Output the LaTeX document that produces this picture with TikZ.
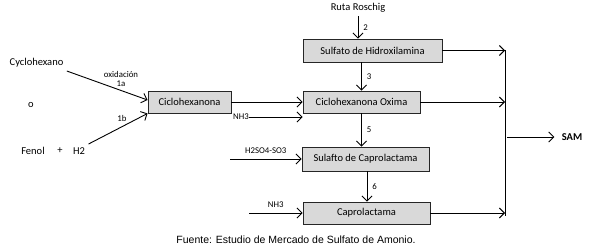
\documentclass[tikz,border=0pt]{standalone}
\usepackage{fontspec}
\setmainfont{Carlito}
\newfontfamily\captionfont{Liberation Sans}
\usetikzlibrary{arrows.meta}
\begin{document}
\begin{tikzpicture}[
  x=1pt, y=-1pt,
  font=\fontsize{10.5}{12}\selectfont,
  box/.style={draw=black!85, line width=0.9pt, fill=gray!30, minimum height=22pt, inner sep=0pt},
  tag/.style={font=\fontsize{8.8}{9.5}\selectfont, inner sep=1pt},
  flow/.style={line width=0.9pt, -{Straight Barb[length=5pt,width=10pt]}},
  rail/.style={line width=0.9pt},
]
\def\xbus{505}

\path[use as bounding box] (0,0) rectangle (589,251);

\node[box, minimum width=83pt] (cic) at (189.5,102) {Ciclohexanona};
\node[box, minimum width=139pt, minimum height=23pt] (hid) at (372.5,50.5) {Sulfato de Hidroxilamina};
\node[box, minimum width=117pt] (oxi) at (361.5,102) {Ciclohexanona Oxima};
\node[box, minimum width=127pt, minimum height=24pt] (sul) at (365.5,159) {Sulafto de Caprolactama};
\node[box, minimum width=127pt] (cap) at (366.5,213) {Caprolactama};

\node (cyc) at (36.5,63) {Cyclohexano};
\node (or) at (31,105) {o};
\node (fen) at (33,151) {Fenol};
\node (plus) at (60,151) {+};
\node (h2) at (79,151) {H2};
\node (ruta) at (358,8) {Ruta Roschig};
\node[font=\fontsize{10.5}{12}\selectfont\bfseries] (sam) at (572,137) {SAM};
\node[tag, align=center] (oxd) at (121,79) {oxidación\\1a};
\node[tag] (t1b) at (122,118) {1b};
\node[tag, inner sep=0pt] (nh3a) at (241,117) {NH3};

\coordinate (inS) at (230,159);
\coordinate (inC) at (249,213);
\coordinate (btop) at (\xbus,50);
\coordinate (bbot) at (\xbus,216);
\coordinate (bout) at (507,137);

\draw[flow] (cyc.south east) -- ([yshift=2pt]cic.west);
\draw[flow] (h2.north east) -- (cic.south west);
\draw[flow] (cic.east) -- (oxi.west);
\draw[flow] (nh3a.east) -- (nh3a.east -| oxi.west);
\draw[flow] (inS) -- (sul.west) node[tag, midway, above=4pt] {H2SO4-SO3};
\draw[flow] (inC) -- (cap.west) node[tag, midway, above=4pt] {NH3};

\draw[flow] (ruta.south -| 358,0) -- (hid.north -| 358,0) node[tag, midway, right=4pt] {2};
\draw[flow] ([xshift=-11pt]hid.south) -- ([xshift=-11pt]hid.south |- oxi.north) node[tag, midway, right=4pt] {3};
\draw[flow] (oxi.south) -- (oxi.south |- sul.north) node[tag, midway, right=4pt] {5};
\draw[flow] ([xshift=1.5pt]sul.south) -- ([xshift=1.5pt]sul.south |- cap.north) node[tag, midway, right=4pt] {6};

\draw[flow] (hid.east) -- (hid.east -| btop);
\draw[flow] (oxi.east) -- (oxi.east -| btop);
\draw[flow] (cap.east) -- (cap.east -| btop);
\draw[rail] (btop) -- (bbot);
\draw[flow, shorten >=4pt] (bout) -- (sam.west);

\node[font=\captionfont\fontsize{10.5}{12}\selectfont] (src) at (296,240) {Fuente: Estudio de Mercado de Sulfato de Amonio.};
\end{tikzpicture}
\end{document}
